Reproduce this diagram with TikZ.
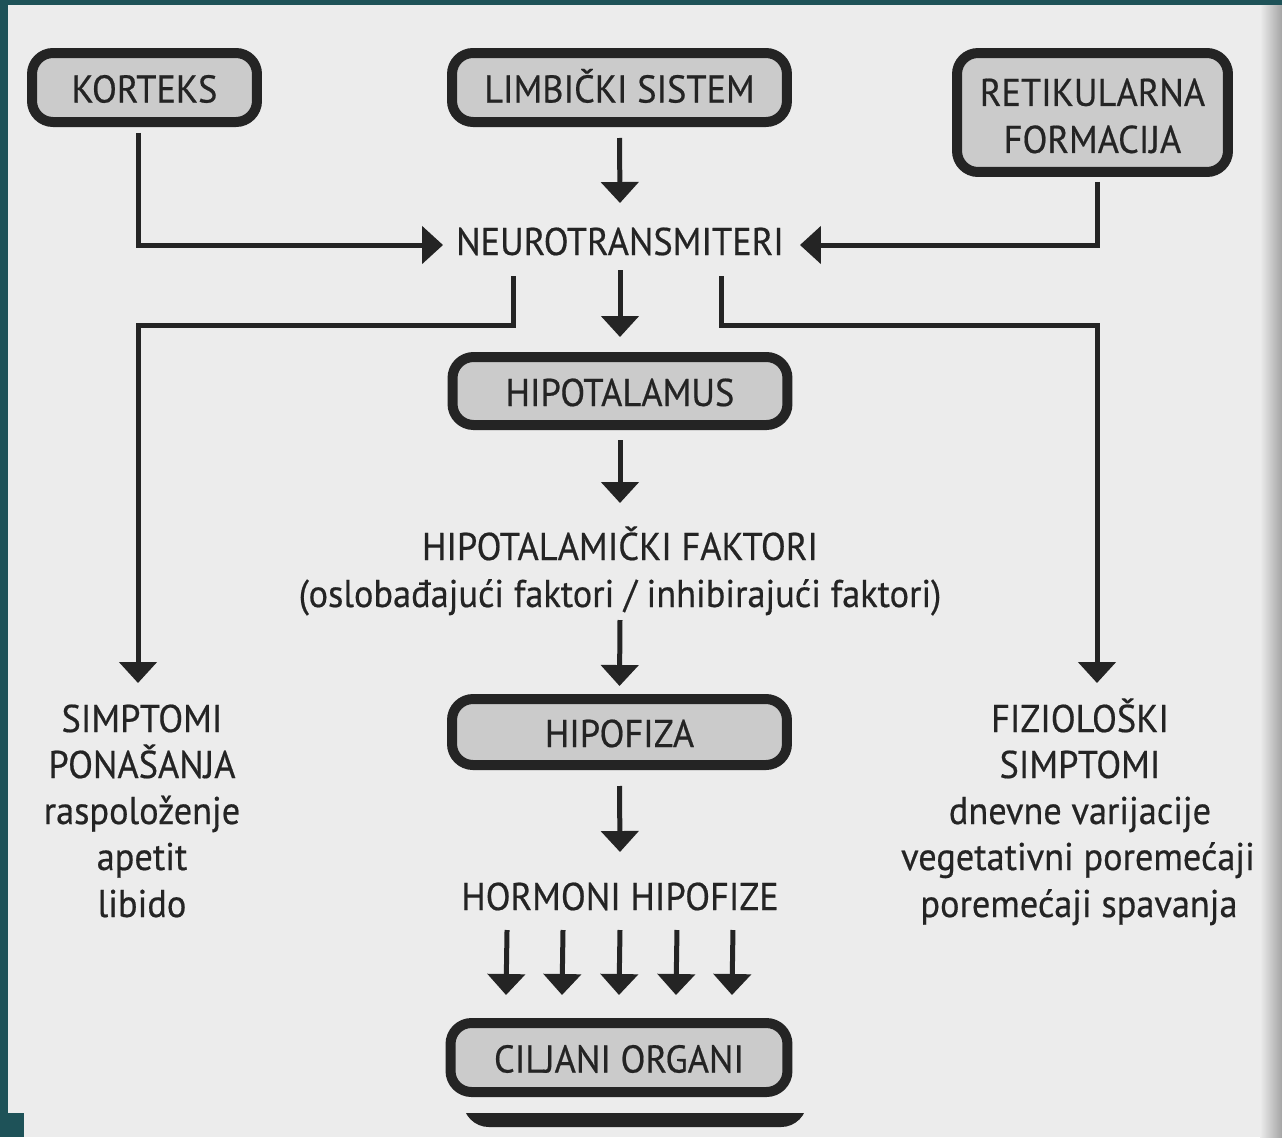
\documentclass[tikz,border=0pt]{standalone}
\usepackage{fontspec}
\setmainfont[FakeStretch=0.94,FakeBold=0.5]{PT Sans}
\usetikzlibrary{arrows.meta}
\definecolor{frameteal}{HTML}{1E5258}
\definecolor{pagebg}{HTML}{ECECEC}
\definecolor{boxfill}{HTML}{CBCBCB}
\definecolor{ink}{HTML}{242424}
\definecolor{edgegray}{HTML}{A4A4A4}
\tikzset{
  fnt/.style={font=\fontsize{22}{26.75}\selectfont, text=ink},
  box/.style={fnt, draw=ink, line width=0.2cm, fill=boxfill, rounded corners=0.42cm,
    inner sep=0pt, text height=0.6cm, text depth=0pt, minimum height=1.38cm},
  txt/.style={fnt, inner sep=0pt, anchor=base},
  conn/.style={draw=ink, line width=0.1cm},
  arr/.style={conn, -{Triangle[length=0.42cm,width=0.74cm]}},
}
\begin{document}
\begin{tikzpicture}[x=0.02cm,y=-0.02cm]
% background: frame and scanned page
\fill[frameteal] (0,0) rectangle (1282,1137);
\fill[pagebg] (8,5) rectangle (1282,1113);
\fill[pagebg] (24,1113) rectangle (1282,1137);
\shade[left color=pagebg, right color=edgegray] (1260,5) rectangle (1282,1137);
% edge of the lower page layer
\begin{scope}
  \clip (0,1113) rectangle (1282,1137);
  \draw[ink, fill=ink, line width=0.2cm, rounded corners=0.42cm] (468,1040) rectangle (802,1122);
\end{scope}

% boxes
\node[box, minimum width=4.5cm] (kort) at (144.5,87.5) {KORTEKS};
\node[box, minimum width=6.7cm] (limb) at (619.5,87.5) {LIMBIČKI SISTEM};
\node[box, minimum width=5.42cm, minimum height=2.38cm, text height={}, text depth={}, align=center] (ret) at (1092.5,112.5) {RETIKULARNA\rule{0pt}{19.5pt}\\FORMACIJA};
\node[box, minimum width=6.7cm, minimum height=1.36cm] (hipot) at (620,391) {HIPOTALAMUS};
\node[box, minimum width=6.7cm, minimum height=1.32cm] (hipof) at (619.5,732) {HIPOFIZA};
\node[box, minimum width=6.74cm] (cilj) at (619,1057.5) {CILJANI ORGANI};

% plain texts
\node[txt] (neuro) at (620,255) {NEUROTRANSMITERI};
\node[txt] (hfakA) at (620,560) {HIPOTALAMIČKI FAKTORI};
\node[txt] (hfakB) at (620,607) {(oslobađajući faktori / inhibirajući faktori)};
\node[txt] (hormon) at (620,910) {HORMONI HIPOFIZE};

\node[txt] (symLa) at (142,732) {SIMPTOMI};
\node[txt] (symLb) at (142,778) {PONAŠANJA};
\node[txt] (symLc) at (142,824) {raspoloženje};
\node[txt] (symLd) at (142,870) {apetit};
\node[txt] (symLe) at (142,917) {libido};

\node[txt] (symRa) at (1080,732) {FIZIOLOŠKI};
\node[txt] (symRb) at (1080,778) {SIMPTOMI};
\node[txt] (symRc) at (1080,824) {dnevne varijacije};
\node[txt] (symRd) at (1078,870) {vegetativni poremećaji};
\node[txt] (symRe) at (1079,917) {poremećaji spavanja};

% connectors
\draw[arr] ([xshift=-0.13cm,yshift=-0.12cm]kort.south) |- ([xshift=-3.54cm,yshift=0.2cm]neuro.base);
\draw[arr] ([yshift=-0.22cm]limb.south) -- ([yshift=1.04cm]neuro.base);
\draw[arr] ([xshift=0.09cm,yshift=-0.1cm]ret.south) |- ([xshift=3.6cm,yshift=0.2cm]neuro.base);

\draw[arr] ([xshift=-2.14cm,yshift=-0.42cm]neuro.base) -- ++(0,49) -| ([xshift=-0.08cm,yshift=0.98cm]symLa.base);
\draw[arr] ([yshift=-0.3cm]neuro.base) -- ([yshift=0.3cm]hipot.north);
\draw[arr] ([xshift=2.04cm,yshift=-0.42cm]neuro.base) -- ++(0,49) -| ([xshift=0.34cm,yshift=0.98cm]symRa.base);

\draw[arr] ([yshift=-0.2cm]hipot.south) -- ([yshift=1.14cm]hfakA.base);
\draw[arr] ([yshift=-0.26cm]hfakB.base) -- ([yshift=0.16cm]hipof.north);
\draw[arr] ([yshift=-0.32cm]hipof.south) -- ([yshift=1.16cm]hormon.base);

\foreach \dx in {-2.26,-1.14,0,1.14,2.26}
  \draw[arr] ([xshift=\dx cm,yshift=-0.4cm]hormon.base) -- ([xshift=\dx cm,yshift=0.46cm]cilj.north);
\end{tikzpicture}
\end{document}
